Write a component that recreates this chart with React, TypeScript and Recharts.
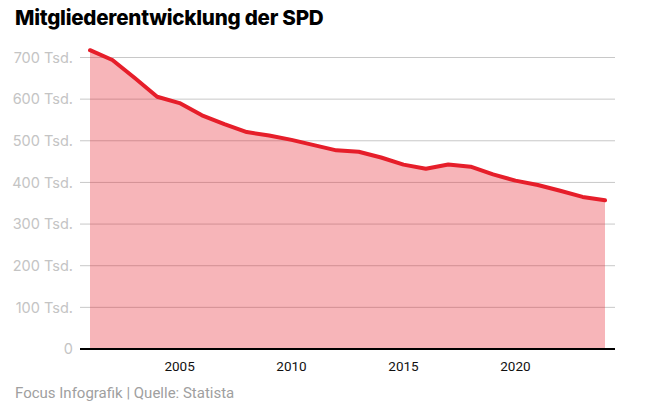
import React from 'react';
import {Area, AreaChart, CartesianGrid, XAxis, YAxis} from 'recharts';

const YEARS = [2001, 2002, 2003, 2004, 2005, 2006, 2007, 2008, 2009, 2010, 2011, 2012,
  2013, 2014, 2015, 2016, 2017, 2018, 2019, 2020, 2021, 2022, 2023, 2024];

// Mitglieder in Tausend
const MEMBERS = [717.5, 693.9, 650.8, 605.8, 590.5, 561.2, 539.9, 521.0, 512.5, 502.1, 489.6, 477.0,
  473.7, 459.9, 442.8, 432.7, 443.2, 437.8, 419.3, 404.3, 393.7, 379.9, 365.2, 357.0];

const X_TICKS = [2005, 2010, 2015, 2020];
const Y_TICKS = [0, 100, 200, 300, 400, 500, 600, 700];

const TITLE = 'Mitgliederentwicklung der SPD';
const SOURCE = 'Focus Infografik | Quelle: Statista';

const RED = '#e61e2a';

const chartData = YEARS.map((year, i) => ({year, members: MEMBERS[i]}));

const formatY = (v: number) => (v === 0 ? '0' : `${v} Tsd.`);

const App: React.FC = () => {
  return (
    <div style={{position: 'absolute', left: 0, top: 0, width: 664, height: 416, background: '#fff', fontFamily: 'Inter, sans-serif'}}>
      <div style={{position: 'absolute', left: 15, top: 5, fontSize: 20.6, fontWeight: 800, color: '#000', letterSpacing: -0.25}}>
        {TITLE}
      </div>
      <AreaChart
        width={664}
        height={416}
        data={chartData}
        margin={{top: 45, right: 49, left: 0, bottom: 37}}
      >
        <CartesianGrid vertical={false} syncWithTicks stroke="#c8c8c8" strokeWidth={1} />
        <XAxis
          dataKey="year"
          type="number"
          domain={[2001, 2024]}
          ticks={X_TICKS}
          padding={{left: 10, right: 10}}
          axisLine={{stroke: '#000', strokeWidth: 2}}
          tickLine={false}
          tickMargin={6}
          height={30}
          tick={{fill: '#111', fontSize: 13.5, fontFamily: 'Roboto, sans-serif'}}
        />
        <YAxis
          domain={[0, 730]}
          ticks={Y_TICKS}
          tickFormatter={formatY}
          axisLine={false}
          tickLine={false}
          tickSize={0}
          tickMargin={7}
          width={80}
          tick={{fill: '#c4c4c4', fontSize: 14.5, fontFamily: 'Inter, sans-serif'}}
        />
        <Area
          type="linear"
          dataKey="members"
          stroke={RED}
          strokeWidth={4}
          strokeLinejoin="round"
          strokeLinecap="round"
          fill={RED}
          fillOpacity={0.33}
          isAnimationActive={false}
          dot={false}
          activeDot={false}
        />
      </AreaChart>
      <div style={{position: 'absolute', left: 15, top: 384, fontSize: 15, color: '#a0a0a0', fontFamily: 'Roboto, sans-serif'}}>
        {SOURCE}
      </div>
    </div>
  );
};

export default App;
